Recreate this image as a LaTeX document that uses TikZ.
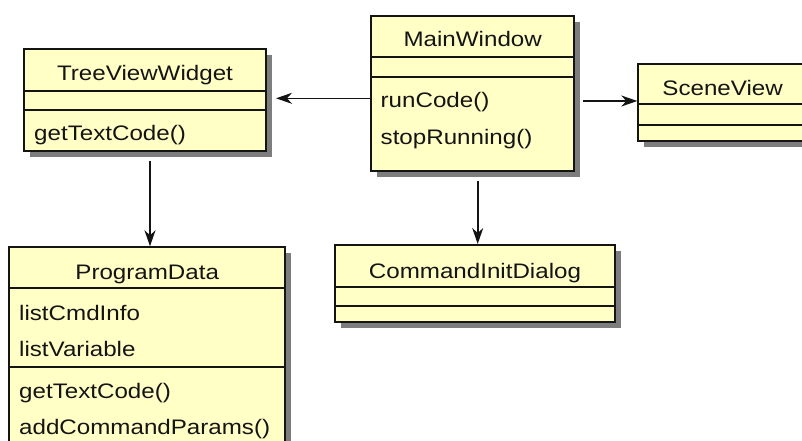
\documentclass[tikz,border=0pt]{standalone}
\usepackage{fontspec}
\setmainfont{Liberation Sans}[FakeStretch=1.15]
\usetikzlibrary{shadows,arrows.meta}
\definecolor{boxfill}{RGB}{255,255,198}
\definecolor{shadowc}{RGB}{125,125,125}
\definecolor{ink}{RGB}{20,20,20}
\begin{document}
\begin{tikzpicture}[x=1pt,y=-1pt,
  cls/.style={draw=ink, fill=boxfill, line width=2pt, rectangle, inner sep=0pt,
    drop shadow={shadow xshift=6pt, shadow yshift=-6pt, fill=shadowc, opacity=1}},
  lbl/.style={font=\fontsize{21}{25}\selectfont, text=ink, inner sep=0pt},
  sepline/.style={draw=ink, line width=1.8pt},
  arr/.style={draw=ink, line width=1.6pt, -{Stealth[length=16pt,width=11pt,inset=5pt]}}]
\clip (0,0) rectangle (802,440);
\fill[white] (0,0) rectangle (802,440);

% class boxes
\node[cls, minimum width=242pt, minimum height=101.4pt] (tvw) at (145,100) {};
\node[cls, minimum width=203.3pt, minimum height=155.3pt] (mw) at (472.7,93.35) {};
\node[cls, minimum width=168.7pt, minimum height=77pt] (sv) at (722.65,102.5) {};
\node[cls, minimum width=275.7pt, minimum height=198.7pt] (pd) at (147.15,346.65) {};
\node[cls, minimum width=280pt, minimum height=76.7pt] (cid) at (475,283.35) {};

% compartment separators
\draw[sepline] (tvw.west |- 0,91) -- (tvw.east |- 0,91);
\draw[sepline] (tvw.west |- 0,110) -- (tvw.east |- 0,110);
\draw[sepline] (mw.west |- 0,57.3) -- (mw.east |- 0,57.3);
\draw[sepline] (mw.west |- 0,76.7) -- (mw.east |- 0,76.7);
\draw[sepline] (sv.west |- 0,104) -- (sv.east |- 0,104);
\draw[sepline] (sv.west |- 0,125) -- (sv.east |- 0,125);
\draw[sepline] (pd.west |- 0,288.3) -- (pd.east |- 0,288.3);
\draw[sepline] (pd.west |- 0,366.7) -- (pd.east |- 0,366.7);
\draw[sepline] (cid.west |- 0,286.7) -- (cid.east |- 0,286.7);
\draw[sepline] (cid.west |- 0,306) -- (cid.east |- 0,306);

% texts
\node[lbl, anchor=base] (tvwT) at (145,80.5) {TreeViewWidget};
\node[lbl, anchor=base west] (tvwM1) at (34,140.7) {getTextCode()};
\node[lbl, anchor=base] (mwT) at (472.7,46.7) {MainWindow};
\node[lbl, anchor=base west] (mwM1) at (380.5,107.3) {runCode()};
\node[lbl, anchor=base west] (mwM2) at (380.5,144.5) {stopRunning()};
\node[lbl, anchor=base] (svT) at (722.6,95.3) {SceneView};
\node[lbl, anchor=base] (pdT) at (147.2,279.3) {ProgramData};
\node[lbl, anchor=base west] (pdA1) at (19,320) {listCmdInfo};
\node[lbl, anchor=base west] (pdA2) at (19,356.7) {listVariable};
\node[lbl, anchor=base west] (pdM1) at (19,398.3) {getTextCode()};
\node[lbl, anchor=base west] (pdM2) at (19,434) {addCommandParams()};
\node[lbl, anchor=base] (cidT) at (475,278.3) {CommandInitDialog};

% connectors
\draw[arr] (mw.west |- 0,98.3) -- ([xshift=9pt]tvw.east |- 0,98.3);
\draw[arr] ([xshift=8pt]mw.east |- 0,101) -- (sv.west |- 0,101);
\draw[arr] ([yshift=-9pt]mw.south -| 477.7,0) -- (cid.north -| 477.7,0);
\draw[arr] ([yshift=-9pt]tvw.south -| 150,0) -- (pd.north -| 150,0);
\end{tikzpicture}
\end{document}
